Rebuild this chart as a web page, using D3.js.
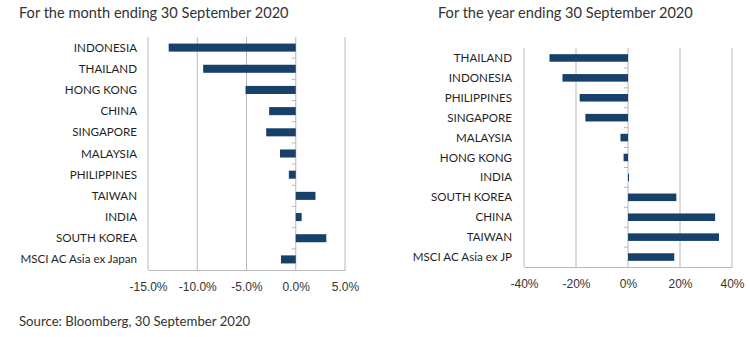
<!DOCTYPE html>
<html>
<head>
<meta charset="utf-8">
<script src="https://cdn.jsdelivr.net/npm/d3@7"></script>
<style>
  body { margin: 0; background: #fff; }
  svg { font-family: Lato, "Open Sans", sans-serif; }
  .title { font-size: 14.6px; fill: #333; }
  .cat { font-size: 11.6px; fill: #1f1f1f; }
  .tick text { font-size: 12px; fill: #333; }
</style>
</head>
<body>
<div id="chart"></div>
<script>
// month panel
var monthCategories = ["INDONESIA", "THAILAND", "HONG KONG", "CHINA", "SINGAPORE", "MALAYSIA",
    "PHILIPPINES", "TAIWAN", "INDIA", "SOUTH KOREA", "MSCI AC Asia ex Japan"];
var monthValues = [-12.9, -9.4, -5.1, -2.7, -3.0, -1.6, -0.7, 2.0, 0.6, 3.1, -1.5];
var monthTicks = [-15, -10, -5, 0, 5];

// year panel
var yearCategories = ["THAILAND", "INDONESIA", "PHILIPPINES", "SINGAPORE", "MALAYSIA", "HONG KONG",
    "INDIA", "SOUTH KOREA", "CHINA", "TAIWAN", "MSCI AC Asia ex JP"];
var yearValues = [-30.2, -25.2, -18.6, -16.4, -2.9, -1.7, 0.4, 18.6, 33.5, 35.0, 17.8];
var yearTicks = [-40, -20, 0, 20, 40];

var svg = d3.select("#chart").append("svg")
    .attr("width", 750)
    .attr("height", 337);

var barColor = "#17406a";
var gridColor = "#b8b8b8";

/**
 * Draws one horizontal bar panel
 */
function drawPanel(opts) {
    var g = svg.append("g");

    var x = d3.scaleLinear()
        .domain(opts.domain)
        .range([opts.left, opts.right]);
    var y = d3.scaleBand()
        .domain(opts.categories)
        .range([opts.top, opts.bottom])
        .paddingInner(0.62)
        .paddingOuter(0.31);

    g.append("text")
        .attr("class", "title")
        .attr("x", opts.titleX)
        .attr("y", 18)
        .text(opts.title);

    // vertical gridlines
    g.append("g").selectAll("line")
        .data(opts.ticks)
        .join("line")
        .attr("x1", function (d) { return x(d); })
        .attr("x2", function (d) { return x(d); })
        .attr("y1", opts.top)
        .attr("y2", opts.bottom)
        .attr("stroke", gridColor)
        .attr("stroke-width", 1);

    // bottom axis
    var axis = g.append("g")
        .attr("transform", "translate(0," + opts.bottom + ")")
        .call(d3.axisBottom(x).tickValues(opts.ticks).tickSize(0).tickPadding(12)
            .tickFormat(opts.format));
    axis.select(".domain").attr("stroke", gridColor);

    // small ticks on zero line at category boundaries
    var step = y.step();
    var bounds = d3.range(1, opts.categories.length).map(function (i) { return opts.top + i * step; });
    g.append("g").selectAll("line")
        .data(bounds)
        .join("line")
        .attr("x1", x(0) - 4)
        .attr("x2", x(0))
        .attr("y1", function (d) { return d; })
        .attr("y2", function (d) { return d; })
        .attr("stroke", gridColor);

    g.append("g").selectAll("rect")
        .data(opts.values)
        .join("rect")
        .attr("x", function (d) { return x(Math.min(0, d)); })
        .attr("y", function (d, i) { return y(opts.categories[i]); })
        .attr("width", function (d) { return Math.abs(x(d) - x(0)); })
        .attr("height", y.bandwidth())
        .attr("fill", barColor);

    g.append("g").selectAll("text")
        .data(opts.categories)
        .join("text")
        .attr("class", "cat")
        .attr("x", opts.labelX)
        .attr("y", function (d) { return y(d) + y.bandwidth() / 2; })
        .attr("dy", "0.35em")
        .attr("text-anchor", "end")
        .text(function (d) { return d; });
}

drawPanel({
    title: "For the month ending 30 September 2020",
    titleX: 19,
    categories: monthCategories,
    values: monthValues,
    ticks: monthTicks,
    domain: [-15, 5],
    left: 148, right: 345,
    top: 37, bottom: 270,
    labelX: 137,
    format: function (d) { return d.toFixed(1) + "%"; }
});

drawPanel({
    title: "For the year ending 30 September 2020",
    titleX: 438,
    categories: yearCategories,
    values: yearValues,
    ticks: yearTicks,
    domain: [-40, 40],
    left: 524, right: 732,
    top: 48, bottom: 267,
    labelX: 512,
    format: function (d) { return d + "%"; }
});

svg.append("text")
    .attr("class", "title")
    .attr("x", 19)
    .attr("y", 326)
    .style("font-size", "13.2px")
    .text("Source: Bloomberg, 30 September 2020");
</script>
</body>
</html>
